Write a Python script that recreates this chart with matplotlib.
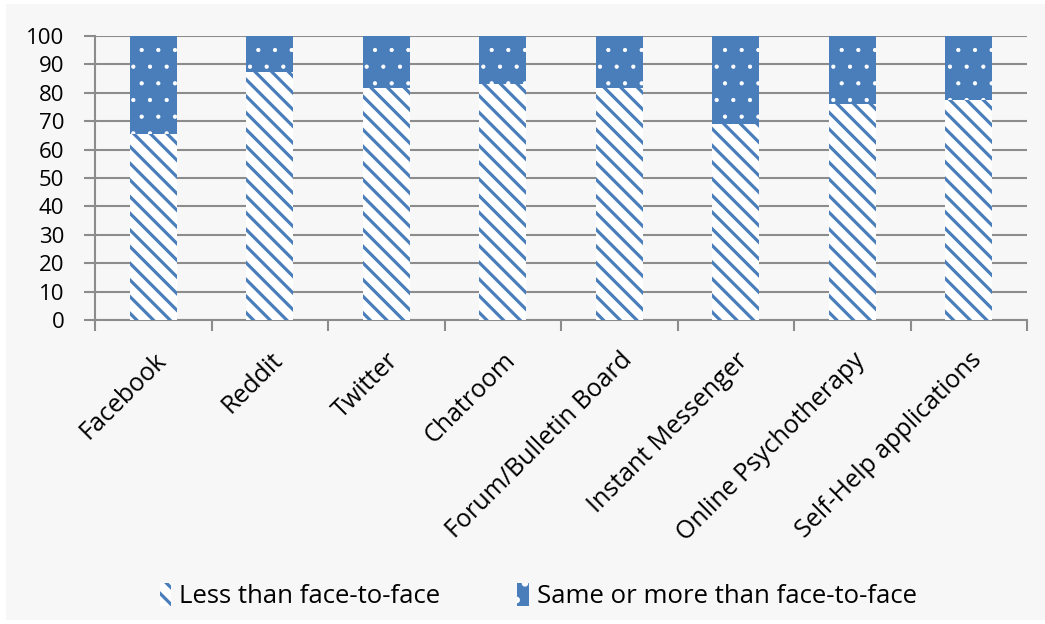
"""Stacked percentage bars: contact online vs face-to-face."""

from matplotlib import pyplot as plt
from matplotlib.patches import Rectangle, Patch
import numpy as np

categories = ["Facebook", "Reddit", "Twitter", "Chatroom", "Forum/Bulletin Board",
              "Instant Messenger", "Online Psychotherapy", "Self-Help applications"]
less_than = [65.4, 87.4, 81.6, 83.2, 81.6, 69.1, 76.0, 77.4]
same_or_more = [100 - v for v in less_than]
y_ticks = [0, 10, 20, 30, 40, 50, 60, 70, 80, 90, 100]
legend_labels = ["Less than face-to-face", "Same or more than face-to-face"]

blue = "#4a7ebb"
bg = "#f7f7f7"
grid_gray = "#8c8c8c"

plt.rcParams["hatch.linewidth"] = 2.3
plt.rcParams["font.family"] = ["Open Sans", "DejaVu Sans"]

fig = plt.figure(figsize=(10.45, 6.24), dpi=100, facecolor="white")
fig.patches.append(Rectangle((6 / 1045, 4 / 624), 1 - 6 / 1045, 1 - 8 / 624,
                             transform=fig.transFigure, facecolor=bg,
                             edgecolor="none", zorder=-10))
ax = fig.add_axes([95 / 1045, 1 - 320 / 624, (1027 - 95) / 1045, (320 - 36) / 624])
ax.set_zorder(1)
ax.set_facecolor(bg)

x = np.arange(len(categories))
width = 0.4
bottom_bars = ax.bar(x, less_than, width, facecolor="white", edgecolor=blue,
                     linewidth=0, hatch="\\\\", zorder=3)
top_bars = ax.bar(x, same_or_more, width, bottom=less_than, facecolor=blue,
                  edgecolor="white", linewidth=0, hatch=".", zorder=3)
for b in top_bars:
    try:
        b.set_hatch_linewidth(0.6)
    except AttributeError:
        pass

ax.set_xlim(-0.5, len(categories) - 0.5)
ax.set_ylim(0, 100)
ax.set_yticks(y_ticks)
ax.yaxis.grid(True, color=grid_gray, linewidth=1.5, zorder=1)
ax.set_axisbelow(True)

ax.set_xticks(np.arange(len(categories) + 1) - 0.5, minor=False)
ax.set_xticklabels([])
ax.set_xticks(x, minor=True)
ax.set_xticklabels(categories, minor=True, rotation=45, ha="right",
                   rotation_mode="anchor", fontsize=18)
ax.tick_params(axis="x", which="minor", length=0, pad=20)
ax.tick_params(axis="x", which="major", length=8, color=grid_gray, width=1.5)
ax.tick_params(axis="y", length=8, color=grid_gray, width=1.5, labelsize=16,
               pad=14)

for side in ["top", "right"]:
    ax.spines[side].set_visible(False)
for side in ["left", "bottom"]:
    ax.spines[side].set_color(grid_gray)
    ax.spines[side].set_linewidth(1.5)

handles = [Patch(facecolor="white", edgecolor=blue, linewidth=0, hatch="\\\\"),
           Patch(facecolor=blue, edgecolor="white", linewidth=0, hatch=".")]
fig.legend(handles, legend_labels, loc="center", bbox_to_anchor=(0.515, 0.045),
           ncol=2, frameon=False, fontsize=18.5, handlelength=0.45,
           handleheight=1.0, handletextpad=0.3, columnspacing=3.0)

fig.savefig("out.png", dpi=100, facecolor=fig.get_facecolor())
